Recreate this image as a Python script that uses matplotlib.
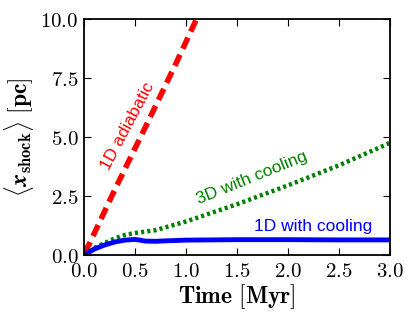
import numpy as np
import matplotlib
matplotlib.use("Agg")
import matplotlib.pyplot as plt

plt.rcParams['mathtext.fontset'] = 'cm'

# data
t_adiab = [0.0, 0.05, 0.3, 0.6, 0.9, 1.2]
x_adiab = [0.1, 0.45, 2.75, 5.4, 8.1, 10.9]

t_3d = [0.0, 0.1, 0.2, 0.3, 0.4, 0.5, 0.7, 1.0, 1.5, 2.0, 2.5, 3.0]
x_3d = [0.0, 0.3, 0.5, 0.7, 0.85, 0.93, 1.05, 1.42, 2.15, 2.95, 3.8, 4.75]

t_1d = [0.0, 0.1, 0.2, 0.3, 0.4, 0.5, 0.55, 0.6, 0.7, 0.8, 1.0, 1.5, 2.0, 2.5, 3.0]
x_1d = [0.0, 0.25, 0.42, 0.55, 0.63, 0.66, 0.63, 0.59, 0.58, 0.6, 0.63, 0.65, 0.65, 0.64, 0.64]

xticks = [0.0, 0.5, 1.0, 1.5, 2.0, 2.5, 3.0]
yticks = [0.0, 2.5, 5.0, 7.5, 10.0]

fig = plt.figure(figsize=(4.15, 3.2), dpi=100)
ax = fig.add_axes([84/415, 1 - 255/320, (390-84)/415, (255-19)/320])

ax.plot(t_adiab, x_adiab, color='r', lw=4, ls=(0, (2.2, 1.2)))
ax.plot(t_3d, x_3d, color='g', lw=3.2, ls=(0, (0.7, 0.7)))
ax.plot(t_1d, x_1d, color='b', lw=3.5)

ax.set_xlim(0, 3.0)
ax.set_ylim(0, 10.0)
ax.set_xticks(xticks)
ax.set_yticks(yticks)
ax.set_xticklabels([r'$\mathbf{%.1f}$' % v for v in xticks])
ax.set_yticklabels([r'$\mathbf{%.1f}$' % v for v in yticks])
ax.tick_params(direction='in', top=True, right=True, length=5, width=0.8, labelsize=15, pad=4)
for s in ax.spines.values():
    s.set_linewidth(1.3)

ax.set_xlabel(r'$\mathbf{Time\ [Myr]}$', fontsize=17, labelpad=1)
ax.set_ylabel(r'$\langle \boldsymbol{x}_{\mathbf{shock}}\rangle\ \mathbf{[pc]}$', fontsize=17, labelpad=3)

ax.text(0.43, 5.47, '1D adiabatic', color='r', rotation=62, fontsize=12.5,
        family='Liberation Sans', ha='center', va='center')
ax.text(1.65, 3.27, '3D with cooling', color='g', rotation=22, fontsize=12.5,
        family='Liberation Sans', ha='center', va='center')
ax.text(2.25, 1.19, '1D with cooling', color='b', fontsize=12.5,
        family='Liberation Sans', ha='center', va='center')

fig.savefig('out.png', dpi=100)
